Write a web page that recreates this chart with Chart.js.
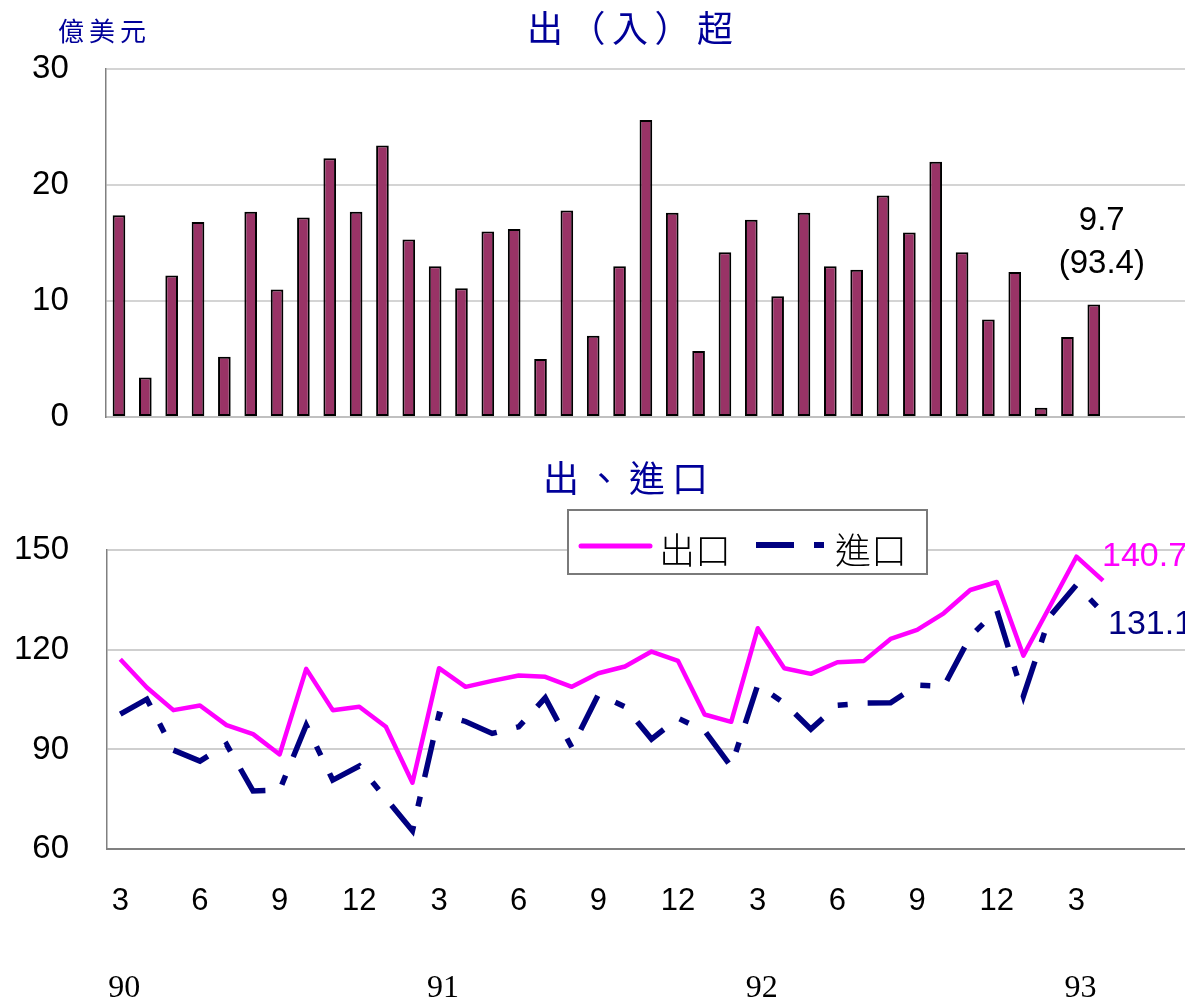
<!DOCTYPE html>
<html>
<head>
<meta charset="utf-8">
<script src="https://cdn.jsdelivr.net/npm/chart.js@4"></script>
<style>
  html, body { margin: 0; padding: 0; background: #fff; overflow: hidden; width: 1185px; height: 1002px; }
  #balanceChart { position: absolute; left: 0; top: 0; }
  #tradeChart { position: absolute; left: 0; top: 440px; }
</style>
</head>
<body>
<canvas id="balanceChart" width="1236" height="480"></canvas>
<canvas id="tradeChart" width="1246" height="600"></canvas>
<script>
// 月份 (90年3月 ~ 93年7月，最後三個月尚無資料)
const months = [3, 4, 5, 6, 7, 8, 9, 10, 11, 12,
  1, 2, 3, 4, 5, 6, 7, 8, 9, 10, 11, 12,
  1, 2, 3, 4, 5, 6, 7, 8, 9, 10, 11, 12,
  1, 2, 3, 4, 5, 6, 7];
const years = [90, 90, 90, 90, 90, 90, 90, 90, 90, 90,
  91, 91, 91, 91, 91, 91, 91, 91, 91, 91, 91, 91,
  92, 92, 92, 92, 92, 92, 92, 92, 92, 92, 92, 92,
  93, 93, 93, 93, 93, 93, 93];

// 出（入）超 (億美元)
const balance = [17.4, 3.4, 12.2, 16.8, 5.2, 17.7, 11.0, 17.2, 22.3, 17.7,
  23.4, 15.3, 13.0, 11.1, 16.0, 16.2, 5.0, 17.8, 7.0, 13.0,
  25.6, 17.6, 5.7, 14.2, 17.0, 10.4, 17.6, 13.0, 12.7, 19.1,
  15.9, 22.0, 14.2, 8.4, 12.5, 0.8, 6.9, 9.7];

// 出口 / 進口 (億美元)
const exportsData = [117.1, 108.6, 101.8, 103.2, 97.3, 94.6, 88.5, 114.2, 101.8, 102.8,
  96.8, 80.0, 114.4, 108.8, 110.6, 112.2, 111.8, 108.8, 112.9, 114.9,
  119.4, 116.6, 100.5, 98.3, 126.4, 114.4, 112.7, 116.2, 116.6, 123.2,
  125.9, 130.9, 137.9, 140.3, 118.2, 133.0, 147.9, 140.7];
const importsData = [100.6, 105.1, 89.8, 86.5, 91.5, 77.5, 77.8, 97.3, 80.8, 85.0,
  75.3, 65.6, 100.6, 98.4, 94.8, 96.8, 105.5, 90.6, 106.5, 102.8,
  93.1, 99.4, 95.6, 84.8, 109.4, 103.9, 96.1, 103.3, 103.9, 104.0,
  109.3, 108.9, 123.9, 131.8, 106.0, 130.0, 139.4, 131.1];

const labels = months.map((m, i) => years[i] + '/' + m);

const TITLE_BLUE = '#000099';
const EXPORT_COLOR = '#FF00FF';
const IMPORT_COLOR = '#000080';
const IMPORT_DASH = [38, 20, 10, 20];
const CJK = '"Noto Sans CJK TC", "Noto Sans CJK JP", sans-serif';
const NUM_FONT = '"Liberation Sans", Arial, sans-serif';

Chart.defaults.font.family = NUM_FONT;
Chart.defaults.color = '#000';

// 字元間距固定的文字
function spacedText(ctx, text, x0, y, step) {
    [...text].forEach(function(ch, i) {
        ctx.fillText(ch, x0 + i * step, y);
    });
}

// 上圖：出（入）超
const balancePlugin = {
    id: 'balanceText',
    afterDraw: function(chart) {
        const ctx = chart.ctx;
        ctx.save();
        ctx.textAlign = 'center';
        ctx.textBaseline = 'middle';
        ctx.fillStyle = TITLE_BLUE;
        ctx.font = '36px ' + CJK;
        spacedText(ctx, '出（入）超', 545, 28, 42.5);
        ctx.font = '26px ' + CJK;
        spacedText(ctx, '億美元', 71, 31, 31);

        // 最後一筆數值標示
        const last = balance.length - 1;
        const bar = chart.getDatasetMeta(0).data[last];
        ctx.fillStyle = '#000';
        ctx.font = '33px ' + NUM_FONT;
        ctx.fillText(balance[last].toFixed(1), bar.x + 8, bar.y - 84);
        ctx.fillText('(' + years[last] + '.' + months[last] + ')', bar.x + 8, bar.y - 41);
        ctx.restore();
    }
};

new Chart(document.getElementById('balanceChart'), {
    type: 'bar',
    data: {
        labels: labels,
        datasets: [{
            label: '出（入）超',
            data: balance,
            backgroundColor: '#993366',
            borderColor: '#000',
            borderWidth: 2,
            borderSkipped: false,
            barPercentage: 0.48,
            categoryPercentage: 1.0
        }]
    },
    options: {
        responsive: false,
        animation: false,
        devicePixelRatio: 1,
        layout: { padding: { top: 69, left: 0, right: 50, bottom: 63 } },
        plugins: { legend: { display: false }, tooltip: { enabled: false }, title: { display: false } },
        scales: {
            x: {
                ticks: { display: false },
                grid: { display: false },
                border: { color: '#c0c0c0', width: 2 },
                afterFit: function(scale) { scale.height = 0; }
            },
            y: {
                min: 0,
                max: 30,
                ticks: { stepSize: 10, padding: 37, font: { size: 33 }, color: '#000' },
                grid: { color: '#d4d4d4', lineWidth: 2, drawTicks: false },
                border: { color: '#808080', width: 1.5 },
                afterFit: function(scale) { scale.width = 105.8; }
            }
        }
    },
    plugins: [balancePlugin]
});

// 下圖：出、進口
const tradePlugin = {
    id: 'tradeText',
    afterDraw: function(chart) {
        const ctx = chart.ctx;
        ctx.save();
        ctx.textAlign = 'center';
        ctx.textBaseline = 'middle';
        ctx.fillStyle = TITLE_BLUE;
        ctx.font = '36px ' + CJK;
        spacedText(ctx, '出、進口', 561, 38, 43);

        // 圖例
        ctx.fillStyle = '#fff';
        ctx.fillRect(568, 70, 359, 64);
        ctx.strokeStyle = '#7a7a7a';
        ctx.lineWidth = 2;
        ctx.strokeRect(568, 70, 359, 64);

        ctx.strokeStyle = EXPORT_COLOR;
        ctx.lineWidth = 5;
        ctx.lineCap = 'round';
        ctx.beginPath();
        ctx.moveTo(581, 106);
        ctx.lineTo(650, 106);
        ctx.stroke();

        ctx.strokeStyle = IMPORT_COLOR;
        ctx.lineWidth = 6;
        ctx.lineCap = 'butt';
        ctx.setLineDash(IMPORT_DASH);
        ctx.beginPath();
        ctx.moveTo(756, 105);
        ctx.lineTo(825, 105);
        ctx.stroke();
        ctx.setLineDash([]);

        ctx.fillStyle = '#000';
        ctx.textAlign = 'left';
        ctx.font = '300 36px ' + CJK;
        ctx.fillText('出口', 659, 110);
        ctx.fillText('進口', 835, 110);

        // 最後一筆數值
        const last = exportsData.length - 1;
        const pe = chart.getDatasetMeta(0).data[last];
        const pi = chart.getDatasetMeta(1).data[last];
        ctx.font = '34px ' + NUM_FONT;
        ctx.fillStyle = EXPORT_COLOR;
        ctx.fillText(exportsData[last].toFixed(1), pe.x - 1, pe.y - 24);
        ctx.fillStyle = IMPORT_COLOR;
        ctx.fillText(importsData[last].toFixed(1), pi.x + 5, pi.y + 12);
        ctx.restore();
    }
};

new Chart(document.getElementById('tradeChart'), {
    type: 'line',
    data: {
        labels: labels,
        datasets: [{
            label: '出口',
            data: exportsData,
            borderColor: EXPORT_COLOR,
            borderWidth: 4.5,
            borderJoinStyle: 'round',
            pointRadius: 0,
            tension: 0,
            fill: false
        }, {
            label: '進口',
            data: importsData,
            borderColor: IMPORT_COLOR,
            borderWidth: 5.5,
            borderDash: IMPORT_DASH,
            borderCapStyle: 'butt',
            borderJoinStyle: 'miter',
            pointRadius: 0,
            tension: 0,
            fill: false
        }]
    },
    options: {
        responsive: false,
        animation: false,
        devicePixelRatio: 1,
        layout: { padding: { top: 109.7, left: 0, right: 50, bottom: 10.7 } },
        plugins: { legend: { display: false }, tooltip: { enabled: false }, title: { display: false } },
        scales: {
            x: {
                offset: true,
                grid: { display: false, drawTicks: false },
                border: { color: '#808080', width: 2 },
                ticks: {
                    autoSkip: false,
                    maxRotation: 0,
                    padding: 34,
                    font: { size: 31 },
                    color: '#000',
                    callback: function(value, index) {
                        if (index >= exportsData.length) return '';
                        return months[index] % 3 === 0 ? String(months[index]) : '';
                    }
                },
                afterFit: function(scale) { scale.height = 80; }
            },
            x2: {
                type: 'category',
                position: 'bottom',
                offset: true,
                grid: { display: false, drawTicks: false },
                border: { display: false },
                ticks: {
                    autoSkip: false,
                    maxRotation: 0,
                    padding: 40.5,
                    labelOffset: 4,
                    font: { size: 32, family: '"Liberation Serif", "Times New Roman", serif' },
                    color: '#000',
                    callback: function(value, index) {
                        return months[index] === 3 ? String(years[index]) : '';
                    }
                },
                afterFit: function(scale) { scale.height = 100; }
            },
            y: {
                min: 60,
                max: 150,
                ticks: { stepSize: 30, padding: 38, font: { size: 33 }, color: '#000' },
                grid: { color: '#cfcfcf', lineWidth: 2, drawTicks: false },
                border: { color: '#808080', width: 1.5 },
                afterFit: function(scale) { scale.width = 107; }
            }
        }
    },
    plugins: [tradePlugin]
});
</script>
</body>
</html>
